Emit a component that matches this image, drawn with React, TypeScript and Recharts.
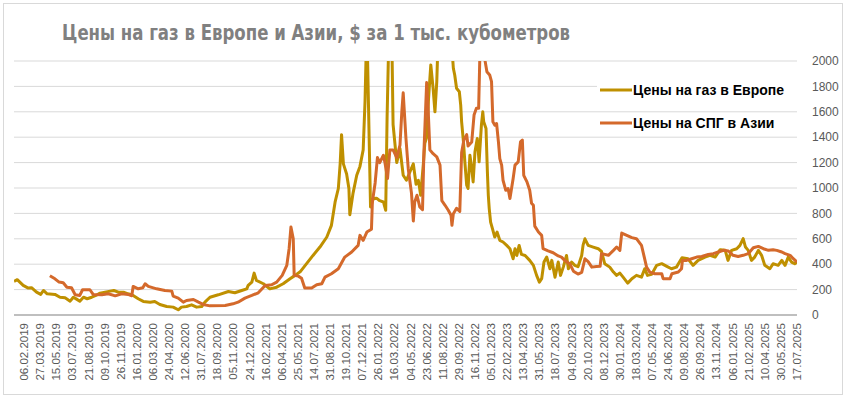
import React from 'react';
import { LineChart, Line, XAxis, YAxis, CartesianGrid, Legend } from 'recharts';

const chartTitle = 'Цены на газ в Европе и Азии, $ за 1 тыс. кубометров';
const europeName = 'Цены на газ в Европе';
const asiaName = 'Цены на СПГ в Азии';
const seriesOrder = [europeName, asiaName];

const tickDates = [
  '06.02.2019', '27.03.2019', '15.05.2019', '03.07.2019', '21.08.2019', '09.10.2019', '26.11.2019',
  '16.01.2020', '06.03.2020', '24.04.2020', '12.06.2020', '31.07.2020', '18.09.2020', '05.11.2020', '24.12.2020',
  '16.02.2021', '06.04.2021', '25.05.2021', '14.07.2021', '31.08.2021', '19.10.2021', '07.12.2021',
  '26.01.2022', '16.03.2022', '04.05.2022', '23.06.2022', '11.08.2022', '29.09.2022', '16.11.2022',
  '05.01.2023', '22.02.2023', '13.04.2023', '31.05.2023', '18.07.2023', '04.09.2023', '20.10.2023', '08.12.2023',
  '30.01.2024', '18.03.2024', '07.05.2024', '24.06.2024', '09.08.2024', '26.09.2024', '13.11.2024',
  '06.01.2025', '21.02.2025', '10.04.2025', '30.05.2025', '17.07.2025',
];
const firstTickDay = 22;
const tickStepDays = 35;
const lastDay = 1702;

const yTicks = [0, 200, 400, 600, 800, 1000, 1200, 1400, 1600, 1800, 2000];

// business-day index of each reading
const europeDay = [
  0, 7, 20, 31, 38, 49, 58, 64, 72, 89,
  100, 111, 122, 129, 136, 143, 151, 159, 169, 178,
  187, 198, 209, 217, 227, 238, 248, 259, 270, 281,
  296, 306, 317, 332, 346, 357, 364, 375, 386, 397,
  408, 415, 426, 444, 466, 480, 495, 506, 509, 517,
  522, 527, 542, 556, 571, 585, 600, 611, 622, 636,
  650, 665, 680, 690, 698, 705, 709, 712, 716, 723,
  728, 730, 737, 745, 752, 759, 763, 767, 772, 775,
  781, 788, 795, 803, 808, 811, 816, 820, 824, 832,
  839, 846, 853, 861, 868, 874, 879, 884, 890, 893,
  897, 901, 906, 911, 915, 919, 922, 928, 935, 941,
  948, 952, 955, 958, 962, 968, 971, 973, 977, 980,
  984, 987, 991, 995, 998, 1002, 1007, 1011, 1016, 1019,
  1021, 1026, 1029, 1031, 1033, 1036, 1040, 1045, 1050, 1056,
  1063, 1071, 1078, 1085, 1089, 1093, 1098, 1103, 1111, 1121,
  1129, 1136, 1142, 1147, 1152, 1158, 1165, 1169, 1176, 1183,
  1188, 1194, 1201, 1205, 1212, 1219, 1226, 1234, 1237, 1241,
  1248, 1259, 1270, 1277, 1284, 1295, 1303, 1310, 1317, 1324,
  1334, 1343, 1353, 1364, 1371, 1377, 1386, 1397, 1408, 1419,
  1429, 1440, 1452, 1465, 1476, 1487, 1502, 1513, 1524, 1535,
  1546, 1552, 1560, 1571, 1578, 1585, 1590, 1596, 1603, 1610,
  1618, 1625, 1632, 1643, 1650, 1661, 1669, 1676, 1683, 1690,
  1697, 1702,
];
const europeValue = [
  265, 278, 233, 212, 215, 180, 162, 193, 167, 162,
  140, 135, 109, 140, 125, 109, 140, 128, 140, 154,
  172, 180, 188, 193, 180, 180, 167, 154, 128, 107,
  101, 107, 83, 67, 62, 41, 62, 67, 80, 62,
  67, 101, 140, 159, 185, 175, 193, 206, 233, 259,
  330, 272, 246, 206, 219, 246, 286, 312, 340, 404,
  469, 535, 614, 706, 890, 996, 1193, 1420, 1190, 1110,
  996, 790, 960, 1100, 1170, 1300, 1680, 2300, 1390, 850,
  917, 920, 900, 890, 825, 1561, 2400, 2500, 1500, 1200,
  1311, 1100, 1061, 1130, 1190, 1030, 1060, 943, 1200, 1351,
  1400, 1700, 1969, 1785, 1600, 1837, 2200, 2600, 3000, 2800,
  2500, 2100, 1943, 1890, 1785, 1758, 1653, 1521, 1363, 1206,
  1022, 996, 1258, 1153, 1048, 1285, 1390, 1206, 1495, 1600,
  1521, 1469, 1127, 943, 838, 732, 680, 614, 653, 588,
  575, 548, 522, 443, 522, 469, 548, 477, 469, 430,
  391, 312, 259, 286, 417, 456, 364, 430, 298, 417,
  312, 377, 469, 364, 417, 391, 380, 469, 550, 600,
  548, 535, 522, 500, 404, 377, 338, 312, 330, 298,
  251, 286, 312, 298, 364, 312, 320, 391, 404, 383,
  364, 377, 451, 443, 391, 430, 456, 470, 456, 514,
  509, 430, 509, 522, 548, 601, 535, 509, 430, 456,
  509, 470, 391, 364, 404, 391, 430, 391, 456, 417,
  404, 417,
];

const asiaDay = [
  78, 89, 98, 107, 115, 125, 133, 143, 149, 165,
  172, 191, 205, 220, 234, 248, 256, 259, 270, 280,
  285, 292, 310, 328, 343, 346, 357, 368, 375, 390,
  401, 411, 426, 459, 476, 487, 502, 517, 531, 546,
  560, 571, 583, 593, 598, 602, 607, 609, 618, 625,
  632, 647, 658, 669, 676, 690, 705, 719, 734, 748,
  752, 759, 767, 777, 779, 785, 790, 795, 803, 806,
  812, 817, 824, 832, 839, 843, 846, 852, 857, 864,
  868, 871, 876, 882, 888, 891, 897, 900, 904, 911,
  919, 926, 930, 937, 944, 950, 952, 955, 962, 969,
  973, 978, 984, 987, 995, 1000, 1005, 1010, 1013, 1018,
  1024, 1028, 1034, 1038, 1041, 1045, 1049, 1053, 1056, 1060,
  1063, 1069, 1074, 1078, 1085, 1089, 1096, 1101, 1105, 1108,
  1115, 1121, 1125, 1129, 1132, 1140, 1147, 1150, 1161, 1172,
  1183, 1190, 1197, 1208, 1216, 1226, 1234, 1241, 1248, 1256,
  1266, 1274, 1277, 1292, 1303, 1310, 1317, 1321, 1332, 1343,
  1353, 1364, 1370, 1375, 1382, 1393, 1408, 1411, 1426, 1430,
  1444, 1451, 1453, 1462, 1473, 1484, 1495, 1509, 1520, 1531,
  1542, 1553, 1563, 1574, 1585, 1596, 1607, 1618, 1629, 1640,
  1650, 1658, 1669, 1676, 1687, 1694, 1702,
];
const asiaValue = [
  309, 285, 259, 254, 219, 214, 159, 154, 199, 199,
  162, 159, 167, 151, 167, 162, 151, 225, 206, 214,
  246, 225, 206, 193, 188, 149, 133, 101, 114, 122,
  101, 83, 72, 75, 88, 101, 133, 154, 175, 233,
  238, 259, 312, 391, 522, 693, 601, 312, 306, 290,
  212, 212, 238, 246, 298, 325, 364, 456, 496, 548,
  627, 588, 653, 675, 890, 1040, 1240, 1200, 1258, 1206,
  1075, 1300, 1300, 1240, 1337, 1600, 1750, 1390, 1150, 960,
  740, 890, 943, 851, 830, 1280, 1830, 1640, 1300, 1270,
  1245, 1180, 900, 864, 825, 785, 706, 798, 840, 815,
  1280, 1380, 1420, 1330, 1363, 1574, 1627, 1627, 2100, 2150,
  2000, 1916, 1890, 1837, 1521, 1495, 1508, 1363, 1232, 1180,
  1061, 982, 996, 917, 1075, 1180, 1206, 1363, 1377, 1100,
  1048, 982, 880, 864, 700, 653, 627, 522, 505, 490,
  465, 456, 430, 404, 345, 322, 335, 443, 420, 377,
  382, 383, 483, 470, 509, 535, 509, 645, 627, 609,
  601, 548, 456, 377, 338, 325, 325, 286, 286, 325,
  338, 364, 430, 430, 443, 456, 461, 477, 483, 496,
  509, 504, 470, 461, 470, 483, 530, 540, 522, 509,
  514, 509, 496, 483, 470, 443, 417,
];

const EUROPE_COLOR = '#bf9000';
const ASIA_COLOR = '#d4692b';
const FONT = "'Liberation Sans', Arial, sans-serif";

const tickDays = tickDates.map((_, i) => firstTickDay + i * tickStepDays);
const dayLabel = (d: number) => tickDates[Math.round((d - firstTickDay) / tickStepDays)] ?? '';

const XTick = (props: any) => {
  const { x, y, payload } = props;
  return (
    <text
      x={x}
      y={y}
      transform={`rotate(-90 ${x} ${y})`}
      textAnchor="end"
      dominantBaseline="central"
      fontSize={11.5}
      fontFamily={FONT}
      fill="#595959"
    >
      {dayLabel(payload.value)}
    </text>
  );
};

const renderLegend = (props: any) => {
  const items = ((props.payload || []) as any[])
    .slice()
    .sort((a, b) => seriesOrder.indexOf(a.value) - seriesOrder.indexOf(b.value));
  return (
    <svg width={200} height={60} style={{ display: 'block', overflow: 'visible' }}>
      <rect x={0} y={1} width={200} height={21} fill="#ffffff" />
      {items.map((it, i) => (
        <g key={it.value}>
          <line x1={3} x2={35} y1={12 + 33 * i} y2={12 + 33 * i} stroke={it.color} strokeWidth={3} />
          <text
            x={36}
            y={12 + 33 * i}
            dominantBaseline="central"
            fontSize={14}
            fontWeight="bold"
            fontFamily={FONT}
            fill="#000000"
          >
            {it.value}
          </text>
        </g>
      ))}
    </svg>
  );
};

export default function App() {
  const europeData = europeDay.map((d, i) => ({ day: d, value: europeValue[i] }));
  const asiaData = asiaDay.map((d, i) => ({ day: d, value: asiaValue[i] }));
  return (
    <div style={{ position: 'absolute', left: 0, top: 0, width: 850, height: 399, background: '#ffffff' }}>
      <div
        style={{
          position: 'absolute',
          left: 3,
          top: 3,
          width: 838,
          height: 390,
          border: '1px solid #d9d9d9',
        }}
      />
      <svg style={{ position: 'absolute', left: 0, top: 0 }} width={850} height={60}>
        <text
          x={62}
          y={40}
          fontSize={21}
          fontWeight="bold"
          fontFamily="'Liberation Sans Narrow', 'DejaVu Sans Condensed', Arial, sans-serif"
          fill="#808080"
          textLength={508}
          lengthAdjust="spacingAndGlyphs"
        >
          {chartTitle}
        </text>
      </svg>
      <div style={{ position: 'absolute', left: 0, top: 0 }}>
        <LineChart width={850} height={399} margin={{ top: 61, right: 3, bottom: 14, left: 14 }}>
          <CartesianGrid horizontal vertical={false} stroke="#d9d9d9" strokeWidth={1} />
          <XAxis
            dataKey="day"
            type="number"
            domain={[0, lastDay]}
            ticks={tickDays}
            interval={0}
            allowDataOverflow
            tick={<XTick />}
            tickLine={false}
            tickSize={0}
            tickMargin={8}
            axisLine={{ stroke: '#bfbfbf', strokeWidth: 2 }}
            height={70}
          />
          <YAxis
            orientation="right"
            domain={[0, 2000]}
            ticks={yTicks}
            interval={0}
            allowDataOverflow
            axisLine={false}
            tickLine={false}
            tickSize={0}
            tickMargin={15}
            width={50}
            tick={{ fill: '#595959', fontSize: 12, fontFamily: FONT }}
          />
          <Legend
            content={renderLegend}
            layout="vertical"
            wrapperStyle={{ position: 'absolute', left: 597, top: 78, width: 0, height: 0, overflow: 'visible' }}
          />
          <Line
            data={europeData}
            dataKey="value"
            name={europeName}
            stroke={EUROPE_COLOR}
            strokeWidth={3}
            strokeLinejoin="round"
            dot={false}
            isAnimationActive={false}
          />
          <Line
            data={asiaData}
            dataKey="value"
            name={asiaName}
            stroke={ASIA_COLOR}
            strokeWidth={3}
            strokeLinejoin="round"
            dot={false}
            isAnimationActive={false}
          />
        </LineChart>
      </div>
    </div>
  );
}
